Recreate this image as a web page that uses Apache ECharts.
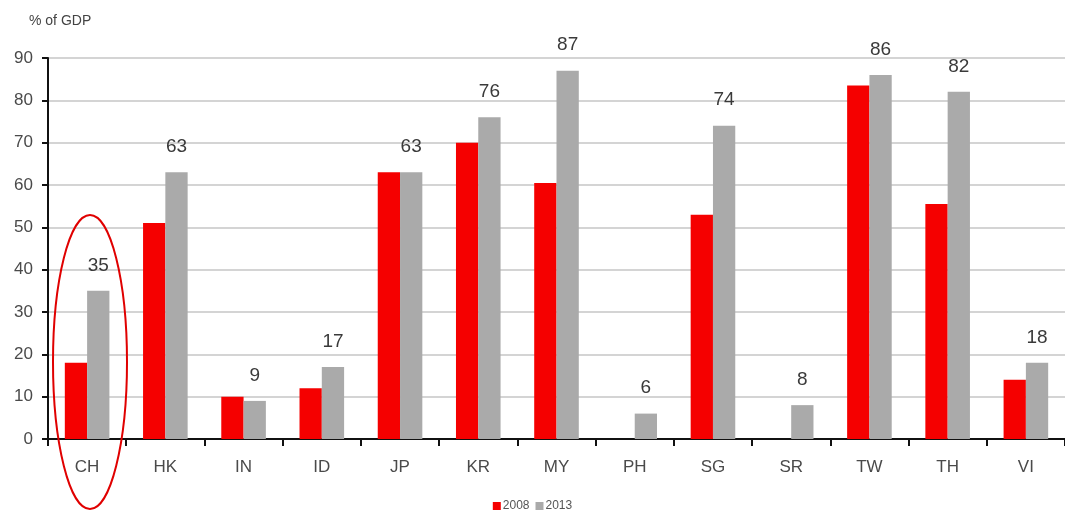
<!DOCTYPE html>
<html>
<head>
<meta charset="utf-8">
<script src="https://cdn.jsdelivr.net/npm/echarts@6/dist/echarts.min.js"></script>
<style>
  html, body { margin: 0; padding: 0; background: #fff; }
  #chart { width: 1065px; height: 521px; }
</style>
</head>
<body>
<div id="chart"></div>
<script>
// Economies (short codes) on the category axis
const categories = ['CH', 'HK', 'IN', 'ID', 'JP', 'KR', 'MY', 'PH', 'SG', 'SR', 'TW', 'TH', 'VI'];
// Values in % of GDP
const values2008 = [18, 51, 10, 12, 63, 70, 60.5, null, 53, null, 83.5, 55.5, 14];
const values2013 = [35, 63, 9, 17, 63, 76, 87, 6, 74, 8, 86, 82, 18];
const seriesNames = ['2008', '2013'];
const yTicks = [0, 10, 20, 30, 40, 50, 60, 70, 80, 90];

const FONT = "'Liberation Sans', Arial, sans-serif";

const chart = echarts.init(document.getElementById('chart'));
chart.setOption({
  animation: false,
  textStyle: { fontFamily: FONT },
  title: {
    text: '% of GDP',
    left: 24, top: 9,
    textStyle: { fontFamily: FONT, fontSize: 14, fontWeight: 'normal', color: '#444' }
  },
  legend: {
    bottom: 4,
    left: 'center',
    itemWidth: 8, itemHeight: 8, itemGap: 6,
    icon: 'rect',
    textStyle: { fontFamily: FONT, fontSize: 12, color: '#555', padding: [0, 0, 0, -3] },
    data: seriesNames
  },
  grid: { left: 48, right: -1, top: 58, bottom: 82, containLabel: false },
  xAxis: {
    type: 'category',
    data: categories,
    axisLine: { lineStyle: { color: '#111', width: 2 } },
    axisTick: { show: true, alignWithLabel: false, length: 7, lineStyle: { color: '#111', width: 2 } },
    axisLabel: { margin: 20, fontSize: 17, color: '#4a4a4a', fontFamily: FONT }
  },
  yAxis: {
    type: 'value',
    min: yTicks[0], max: yTicks[yTicks.length - 1], interval: 10,
    axisLine: { show: true, lineStyle: { color: '#111', width: 2 } },
    axisTick: { show: true, length: 6, lineStyle: { color: '#111', width: 2 } },
    axisLabel: { margin: 15, fontSize: 17, color: '#4a4a4a', fontFamily: FONT },
    splitLine: { lineStyle: { color: '#d4d4d4', width: 2 } }
  },
  series: [
    {
      name: seriesNames[0], type: 'bar', data: values2008,
      itemStyle: { color: '#f50000' },
      barWidth: '28.5%', barGap: '0%'
    },
    {
      name: seriesNames[1], type: 'bar', data: values2013,
      itemStyle: { color: '#aaaaaa' },
      barWidth: '28.5%', barGap: '0%',
      label: {
        show: true, position: 'top', distance: 16,
        fontSize: 19, color: '#3a3a3a', fontFamily: FONT
      }
    }
  ],
  graphic: [
    {
      type: 'ellipse',
      shape: { cx: 90, cy: 362, rx: 37, ry: 147 },
      style: { fill: 'none', stroke: '#e00000', lineWidth: 2 },
      z: 100
    }
  ]
});
</script>
</body>
</html>
